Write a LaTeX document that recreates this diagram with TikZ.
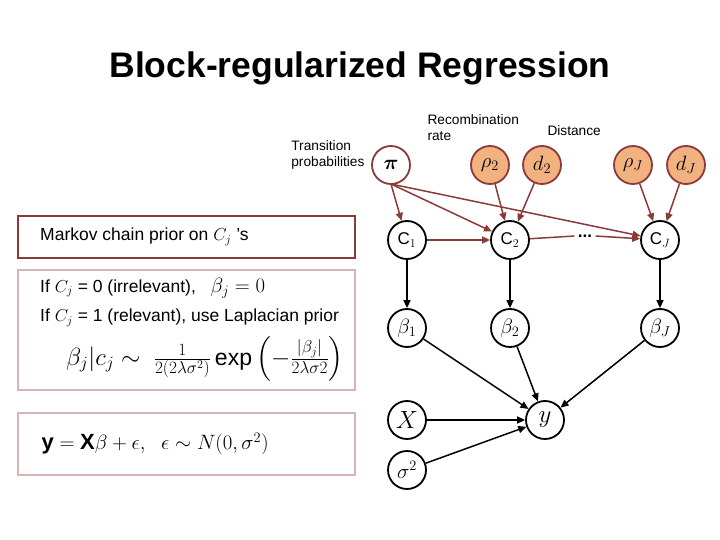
\documentclass[tikz,border=0pt]{standalone}
\usepackage{amsmath}
\usepackage{fontspec}
\setmainfont{Liberation Sans}
\usetikzlibrary{arrows.meta}
\definecolor{brn}{HTML}{8B3A3A}
\definecolor{pnk}{HTML}{D8B4B4}
\definecolor{org}{HTML}{F2B27F}
\begin{document}
\begin{tikzpicture}[x=1pt,y=-1pt,
 rv/.style={circle,draw=brn,line width=1.8pt,minimum size=38pt,inner sep=0pt,font=\fontsize{22}{24}\selectfont},
 obs/.style={rv,fill=org},
 bk/.style={circle,draw=black,line width=1.8pt,minimum size=38pt,inner sep=0pt,font=\fontsize{17}{20}\selectfont},
 ra/.style={draw=brn,line width=1.5pt,-{Triangle[length=8pt,width=7pt]}},
 ka/.style={draw=black,line width=1.5pt,-{Triangle[length=8pt,width=7pt]}},
 lbl/.style={font=\fontsize{13.7}{16}\selectfont,align=left},
 txt/.style={anchor=west,inner sep=0pt,font=\fontsize{17.5}{20}\selectfont}]
\useasboundingbox (0,0) rectangle (720,540);
\node[font=\bfseries\fontsize{35.5}{40}\selectfont] (title) at (360,68) {Block-regularized Regression};
\node[lbl,anchor=north west] (rr) at (424,111) {Recombination\\rate};
\node[lbl,anchor=north west] (dist) at (544,122) {Distance};
\node[lbl,anchor=north east,align=left] (tp) at (368,137) {Transition\\probabilities};
\node[rv] (pi) at (391,165) {$\boldsymbol{\pi}$};
\node[obs] (r2) at (490,165) {$\rho_2$};
\node[obs] (d2) at (542,165) {$d_2$};
\node[obs] (rJ) at (633,165) {$\rho_J$};
\node[obs] (dJ) at (686,165) {$d_J$};
\node[bk] (c1) at (407,240) {C$_1$};
\node[bk] (c2) at (510,240) {C$_2$};
\node[font=\bfseries\fontsize{17}{20}\selectfont] (dots) at (585,236) {...};
\node[bk] (cJ) at (660,240) {C$_J$};
\node[bk,font=\fontsize{22}{24}\selectfont] (b1) at (407,328) {$\beta_1$};
\node[bk,font=\fontsize{22}{24}\selectfont] (b2) at (510,328) {$\beta_2$};
\node[bk,font=\fontsize{22}{24}\selectfont] (bJ) at (660,328) {$\beta_J$};
\node[bk,font=\fontsize{24}{26}\selectfont] (X) at (407,420) {$X$};
\node[bk,font=\fontsize{34}{36}\selectfont] (y) at (545,420) {$y$};
\node[bk,font=\fontsize{20}{22}\selectfont] (s) at (407,470) {$\sigma^2$};
\coordinate (pib) at (391,184);
\draw[ra] (pib) -- (c1);
\draw[ra] (pib) -- (c2);
\draw[ra] (pib) -- (cJ);
\draw[ra] (r2) -- (c2);
\draw[ra] (d2) -- (c2);
\draw[ra] (rJ) -- (cJ);
\draw[ra] (dJ) -- (cJ);
\draw[ra] (c1) -- (c2);
\draw[draw=brn,line width=1.5pt] (c2) -- (dots.west);
\draw[ra] (dots.east) -- (cJ);
\draw[ka] (c1) -- (b1);
\draw[ka] (c2) -- (b2);
\draw[ka] (cJ) -- (bJ);
\draw[ka] (b1) -- (y);
\draw[ka] (b2) -- (y);
\draw[ka] (bJ) -- (y);
\draw[ka] (X) -- (y);
\draw[ka] (s) -- (y);
\draw[brn,line width=2pt] (18,216) rectangle (355,258);
\node[txt] (m) at (40,237) {Markov chain prior on $C_j$ ’s};
\draw[pnk,line width=2pt] (18,270) rectangle (355,390);
\node[txt] (i0) at (40,288) {If $C_j$ = 0 (irrelevant), \ \ {\fontsize{21}{24}\selectfont$\beta_j = 0$}};
\node[txt] (i1) at (40,318) {If $C_j$ = 1 (relevant), use Laplacian prior};
\node[anchor=west,inner sep=0pt,font=\fontsize{23}{26}\selectfont] (lap) at (66,359) {$\beta_j|c_j \sim\ \frac{1}{2(2\lambda\sigma^2)}\exp\left(-\frac{|\beta_j|}{2\lambda\sigma 2}\right)$};
\draw[pnk,line width=2pt] (18,413) rectangle (355,475);
\node[anchor=west,font=\fontsize{22}{25}\selectfont] (eq) at (38,444) {$\mathbf{y}=\mathbf{X}\beta+\epsilon,\ \ \epsilon\sim N(0,\sigma^2)$};
\end{tikzpicture}
\end{document}
